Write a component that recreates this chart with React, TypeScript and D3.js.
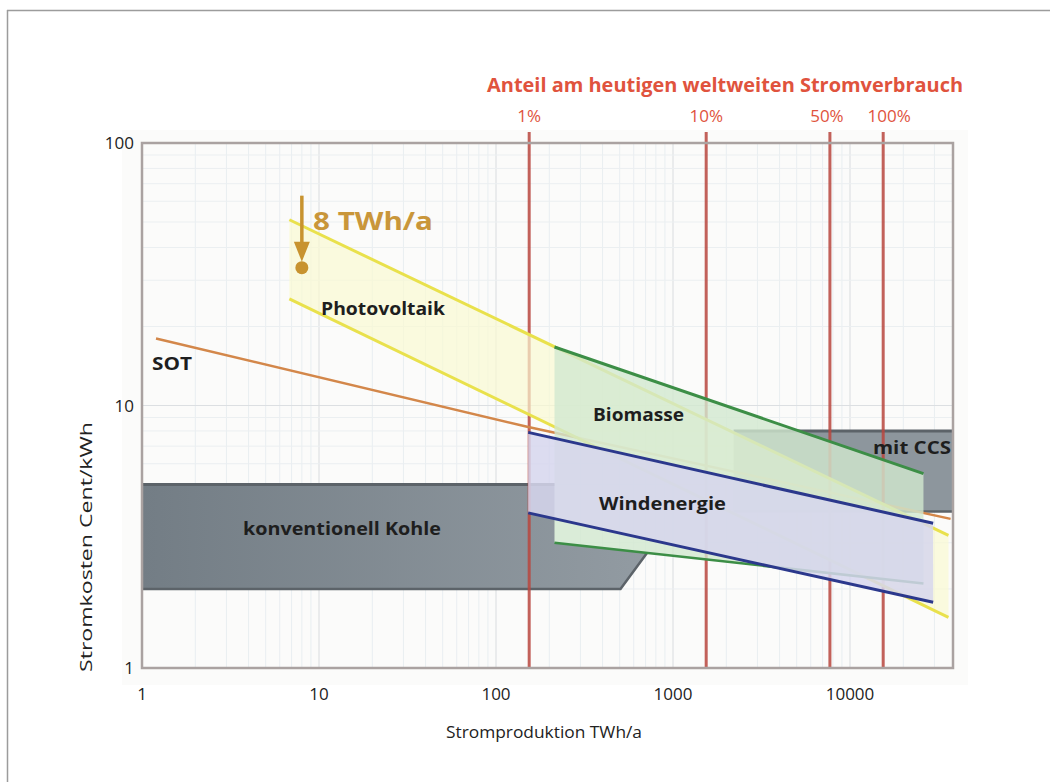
import React from 'react';
import * as d3 from 'd3';

// ---------- data ----------
const xTicks = [1, 10, 100, 1000, 10000];
const yTicks = [1, 10, 100];
const shareLabels = ['1%', '10%', '50%', '100%'];
const shareValues = [0.01, 0.1, 0.5, 1];
const worldConsumption = 15400; // TWh/a
const xMax = 38000;

const sotLine: [number, number][] = [[1.2, 18], [150, 8.3], [37000, 3.7]];
const pvUpper: [number, number][] = [[6.8, 51], [36000, 3.2]];
const pvLower: [number, number][] = [[6.8, 25.5], [36000, 1.56]];
const bioUpper: [number, number][] = [[214, 16.7], [26000, 5.5]];
const bioLower: [number, number][] = [[214, 3.0], [26000, 2.1]];
const windUpper: [number, number][] = [[152, 7.9], [29500, 3.56]];
const windLower: [number, number][] = [[152, 3.9], [29500, 1.78]];
const coalShape: [number, number][] = [[1, 5], [215, 5], [215, 3.0], [713, 2.74], [505, 2], [1, 2]];
const ccsBox = { x0: 2200, x1: xMax, y0: 3.95, y1: 8 };
const annot = { x: 8, top: 63, dot: 33.5, label: '8 TWh/a' };

const seriesLabels = [
  { text: 'Photovoltaik', x: 321, y: 315, w: 124 },
  { text: 'SOT', x: 152, y: 370, w: 40 },
  { text: 'Biomasse', x: 593, y: 421, w: 91 },
  { text: 'mit CCS', x: 873, y: 454, w: 78 },
  { text: 'Windenergie', x: 599, y: 510, w: 127 },
  { text: 'konventionell Kohle', x: 243, y: 535, w: 198 },
];

// ---------- layout ----------
const W = 1050;
const H = 782;
const left = 142;
const top = 143;
const bottom = 668;
const right = 953;
const FONT = "'Open Sans', 'Noto Sans', sans-serif";

export default function App() {
  const x = d3.scaleLog().domain([1, 10000]).range([left, 850]);
  const y = d3.scaleLog().domain([1, 100]).range([bottom, top]);
  const line = d3.line<[number, number]>().x(d => x(d[0])).y(d => y(d[1]));

  const band = (u: [number, number][], l: [number, number][]) =>
    line([...u, ...l.slice().reverse()])! + 'Z';

  const xGrid: number[] = [];
  for (let e = 0; e <= 4; e++) for (let k = 1; k <= 9; k++) {
    const v = k * Math.pow(10, e);
    if (v <= xMax) xGrid.push(v);
  }
  const yGrid: number[] = [];
  for (let e = 0; e <= 1; e++) for (let k = 1; k <= 9; k++) yGrid.push(k * Math.pow(10, e));

  const redTop = 132;

  return (
    <svg width={W} height={H} style={{ position: 'absolute', left: 0, top: 0, fontFamily: FONT }}>
      <defs>
        <linearGradient id="coalGrad" x1="0" x2="1" y1="0" y2="0">
          <stop offset="0%" stopColor="#737d85" />
          <stop offset="100%" stopColor="#929ba2" />
        </linearGradient>
      </defs>
      <rect x={0} y={0} width={W} height={H} fill="#fff" />
      <line x1={7} y1={10.5} x2={W} y2={10.5} stroke="#9c9c9c" strokeWidth={1.5} />
      <line x1={7.5} y1={10} x2={7.5} y2={H} stroke="#9c9c9c" strokeWidth={1.5} />

      <rect x={122} y={130} width={846} height={555} fill="#fbfbfa" />

      {xGrid.map((v, i) => (
        <line key={'gx' + i} x1={x(v)} x2={x(v)} y1={top} y2={bottom}
          stroke={Number.isInteger(Math.log10(v)) ? '#d9dcdf' : '#e9eef1'} strokeWidth={1} />
      ))}
      {yGrid.map((v, i) => (
        <line key={'gy' + i} x1={left} x2={right} y1={y(v)} y2={y(v)}
          stroke={Number.isInteger(Math.log10(v)) ? '#dcdfe2' : '#ebeff1'} strokeWidth={1} />
      ))}

      {/* konventionell Kohle */}
      <path d={line(coalShape)! + 'Z'} fill="url(#coalGrad)" />
      <path d={line(coalShape.slice(0, 2))!} stroke="#5c6369" strokeWidth={3} fill="none" />
      <path d={line([coalShape[3], coalShape[4], coalShape[5]])!} stroke="#5c6369" strokeWidth={2.5} fill="none" />

      {/* mit CCS */}
      <rect x={x(ccsBox.x0)} y={y(ccsBox.y1)} width={x(ccsBox.x1) - x(ccsBox.x0)}
        height={y(ccsBox.y0) - y(ccsBox.y1)} fill="#8d969d" />
      <line x1={x(ccsBox.x0)} x2={x(ccsBox.x1)} y1={y(ccsBox.y1)} y2={y(ccsBox.y1)} stroke="#5c6369" strokeWidth={3} />
      <line x1={x(ccsBox.x0)} x2={x(ccsBox.x1)} y1={y(ccsBox.y0)} y2={y(ccsBox.y0)} stroke="#5c6369" strokeWidth={2.5} />

      {/* share lines */}
      {shareValues.map((s, i) => (
        <line key={'r' + i} x1={x(s * worldConsumption)} x2={x(s * worldConsumption)} y1={redTop} y2={bottom}
          stroke="#b9473f" strokeWidth={3} opacity={0.85} />
      ))}

      {/* SOT */}
      <path d={line(sotLine)!} stroke="#d3874a" strokeWidth={2.5} fill="none" />

      {/* Photovoltaik */}
      <path d={band(pvUpper, pvLower)} fill="#fafad2" opacity={0.7} />
      <path d={line(pvUpper)!} stroke="#e9e14c" strokeWidth={3} fill="none" />
      <path d={line(pvLower)!} stroke="#e9e14c" strokeWidth={3} fill="none" />

      {/* Biomasse */}
      <path d={band(bioUpper, bioLower)} fill="#d2e8cf" opacity={0.8} />
      <path d={line(bioUpper)!} stroke="#3c8e46" strokeWidth={3} fill="none" />
      <path d={line(bioLower)!} stroke="#3c8e46" strokeWidth={2.5} fill="none" />

      {/* Windenergie */}
      <path d={band(windUpper, windLower)} fill="#d6d6ed" opacity={0.85} />
      <path d={line(windUpper)!} stroke="#2b388c" strokeWidth={3} fill="none" />
      <path d={line(windLower)!} stroke="#2b388c" strokeWidth={3} fill="none" />

      {/* plot frame */}
      <rect x={left} y={top} width={right - left} height={bottom - top} fill="none" stroke="#aaa2a1" strokeWidth={2.5} />

      {/* axis tick labels */}
      {xTicks.map((t, i) => (
        <text key={'xt' + i} x={x(t)} y={700} textAnchor="middle" fontSize={17} fill="#222">{t}</text>
      ))}
      {yTicks.map((t, i) => (
        <text key={'yt' + i} x={134} y={y(t) + 6} textAnchor="end" fontSize={17} fill="#222">{t}</text>
      ))}

      {/* axis titles */}
      <text x={544} y={738} textAnchor="middle" fontSize={16} fill="#222" textLength={196} lengthAdjust="spacingAndGlyphs">
        Stromproduktion TWh/a
      </text>
      <text transform="translate(92,547) rotate(-90)" textAnchor="middle" fontSize={16.5} fill="#222"
        textLength={250} lengthAdjust="spacingAndGlyphs">
        Stromkosten Cent/kWh
      </text>

      {/* top share axis */}
      <text x={487} y={92} fontSize={19} fontWeight={700} fill="#e0533d" textLength={476} lengthAdjust="spacingAndGlyphs">
        Anteil am heutigen weltweiten Stromverbrauch
      </text>
      {shareValues.map((s, i) => (
        <text key={'sl' + i} x={x(s * worldConsumption) + (i === 3 ? 6 : i === 2 ? -3 : 0)} y={122}
          textAnchor="middle" fontSize={17} fill="#e0533d">{shareLabels[i]}</text>
      ))}

      {/* series labels */}
      {seriesLabels.map((l, i) => (
        <text key={'lab' + i} x={l.x} y={l.y} fontSize={18} fontWeight={700} fill="#1e1e1e"
          textLength={l.w} lengthAdjust="spacingAndGlyphs">{l.text}</text>
      ))}

      {/* 8 TWh/a annotation */}
      <line x1={x(annot.x)} x2={x(annot.x)} y1={y(annot.top)} y2={y(annot.dot) - 20} stroke="#c8932f" strokeWidth={3.5} />
      <path d={`M${x(annot.x) - 8},${y(annot.dot) - 26} L${x(annot.x) + 8},${y(annot.dot) - 26} L${x(annot.x)},${y(annot.dot) - 6} Z`} fill="#c8932f" />
      <circle cx={x(annot.x)} cy={y(annot.dot)} r={6.5} fill="#c8932f" />
      <text x={313} y={230} fontSize={25} fontWeight={700} fill="#c9963a" textLength={120} lengthAdjust="spacingAndGlyphs">
        {annot.label}
      </text>
    </svg>
  );
}
